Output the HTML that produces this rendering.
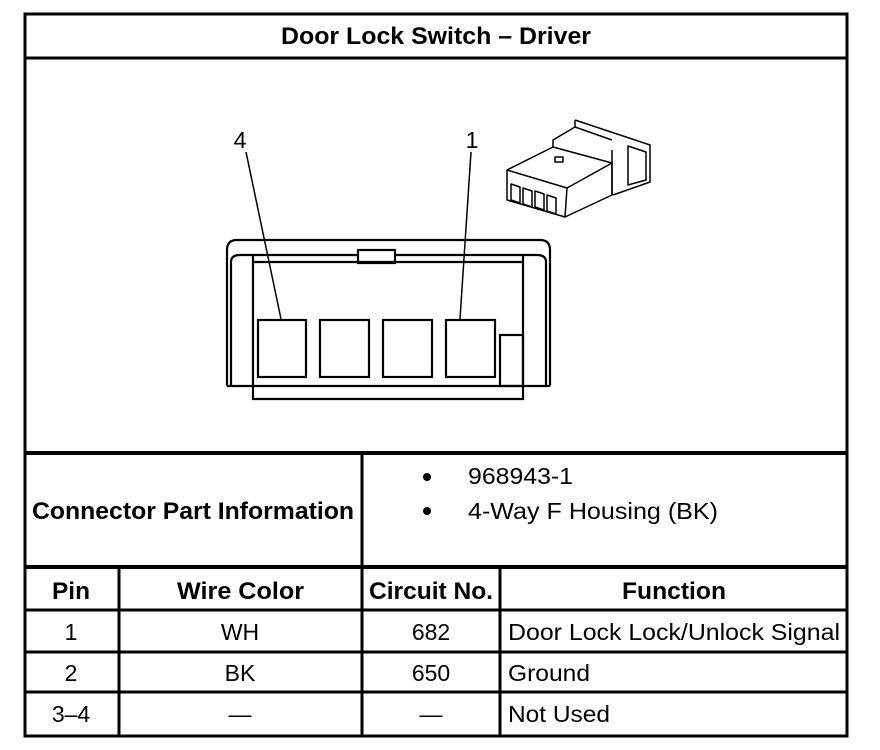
<!DOCTYPE html>
<html><head><style>
html,body{margin:0;padding:0;background:#fff;width:880px;height:750px;overflow:hidden}
svg{display:block}
text{font-family:"Liberation Sans",Arial,sans-serif;fill:#000}
.b{font-weight:bold;font-size:24px}
.n{font-size:23px}
</style></head><body>
<svg width="880" height="750" viewBox="0 0 880 750">
<g stroke="#000" fill="none">
<rect x="25" y="14" width="822" height="722" stroke-width="3"/>
<line x1="25" y1="58" x2="847" y2="58" stroke-width="3"/>
<line x1="25" y1="453" x2="847" y2="453" stroke-width="4"/>
<line x1="362" y1="453" x2="362" y2="567" stroke-width="3"/>
<line x1="25" y1="567" x2="847" y2="567" stroke-width="4"/>
<line x1="25" y1="610" x2="847" y2="610" stroke-width="3"/>
<line x1="25" y1="652" x2="847" y2="652" stroke-width="3"/>
<line x1="25" y1="692" x2="847" y2="692" stroke-width="3"/>
<line x1="119" y1="567" x2="119" y2="736" stroke-width="3"/>
<line x1="362" y1="567" x2="362" y2="736" stroke-width="3"/>
<line x1="500" y1="567" x2="500" y2="736" stroke-width="3"/>

<g stroke-width="2.2">
<path d="M227,386 L227,250 Q227,240 237,240 L540,240 Q550,240 550,250 L550,386"/>
<path d="M227,386 L253,386 M523,386 L550,386"/>
<path d="M231,386 L231,262 Q231,255 240,255 L253,255 M523,255 L537,255 Q546,255 546,262 L546,386"/>
<line x1="253" y1="255" x2="358" y2="255"/>
<line x1="395" y1="255" x2="523" y2="255"/>
<line x1="253" y1="262" x2="523" y2="262"/>
<rect x="358" y="250" width="37" height="13"/>
<path d="M253,255 L253,399 L523,399 L523,255"/>
<line x1="253" y1="386" x2="523" y2="386"/>
<rect x="258" y="320" width="48" height="57"/>
<rect x="320" y="320" width="49" height="57"/>
<rect x="383" y="320" width="49" height="57"/>
<rect x="446" y="320" width="49" height="57"/>
<rect x="500" y="335" width="23" height="51"/>
</g>
<line x1="246" y1="152" x2="281" y2="319" stroke-width="1.5"/>
<line x1="471" y1="152" x2="460" y2="319" stroke-width="1.5"/>

<g stroke-width="1.5" stroke-linejoin="round">
<path d="M575,120 L650,145 L650,182 L613,195"/>
<path d="M575,120 L575,127 L612,140"/>
<path d="M628,146 L646,152 L646,180 L628,185 Z"/>
<path d="M612,150 L612,195"/>
<path d="M507,170 L553,147 L612,163 L567,188 Z" fill="#fff"/>
<path d="M553,147 L553,140 L575,127"/>
<path d="M507,170 L507,200 L565,217 L567,188"/>
<path d="M565,217 L612,195 L612,163"/>
<rect x="555" y="157" width="8" height="5"/>
<path d="M511,184 L520,187 L520,203 L511,200 Z M523,188 L532,191 L532,207 L523,204 Z M535,191 L544,194 L544,210 L535,207 Z M547,195 L556,198 L556,214 L547,211 Z"/>
</g>
</g>

<text x="281" y="44" class="b" textLength="310" lengthAdjust="spacingAndGlyphs">Door Lock Switch – Driver</text>
<text x="240" y="148" class="n" text-anchor="middle">4</text>
<text x="472" y="148" class="n" text-anchor="middle">1</text>

<text x="32" y="519" class="b" textLength="322" lengthAdjust="spacingAndGlyphs">Connector Part Information</text>
<circle cx="427" cy="477" r="4" fill="#000"/>
<circle cx="427" cy="511" r="4" fill="#000"/>
<text x="468" y="484" class="n" textLength="105" lengthAdjust="spacingAndGlyphs">968943-1</text>
<text x="468" y="519" class="n" textLength="250" lengthAdjust="spacingAndGlyphs">4-Way F Housing (BK)</text>

<text x="52" y="599" class="b" textLength="38" lengthAdjust="spacingAndGlyphs">Pin</text>
<text x="177" y="599" class="b" textLength="127" lengthAdjust="spacingAndGlyphs">Wire Color</text>
<text x="369" y="599" class="b" textLength="124" lengthAdjust="spacingAndGlyphs">Circuit No.</text>
<text x="622" y="599" class="b" textLength="104" lengthAdjust="spacingAndGlyphs">Function</text>

<text x="71" y="640" class="n" text-anchor="middle">1</text>
<text x="240" y="640" class="n" text-anchor="middle">WH</text>
<text x="431" y="640" class="n" text-anchor="middle">682</text>
<text x="508" y="640" class="n" textLength="332" lengthAdjust="spacingAndGlyphs">Door Lock Lock/Unlock Signal</text>

<text x="71" y="681" class="n" text-anchor="middle">2</text>
<text x="240" y="681" class="n" text-anchor="middle">BK</text>
<text x="431" y="681" class="n" text-anchor="middle">650</text>
<text x="508" y="681" class="n" textLength="82" lengthAdjust="spacingAndGlyphs">Ground</text>

<text x="71" y="722" class="n" text-anchor="middle">3–4</text>
<text x="240" y="722" class="n" text-anchor="middle">—</text>
<text x="431" y="722" class="n" text-anchor="middle">—</text>
<text x="508" y="722" class="n" textLength="102" lengthAdjust="spacingAndGlyphs">Not Used</text>
</svg>
</body></html>
